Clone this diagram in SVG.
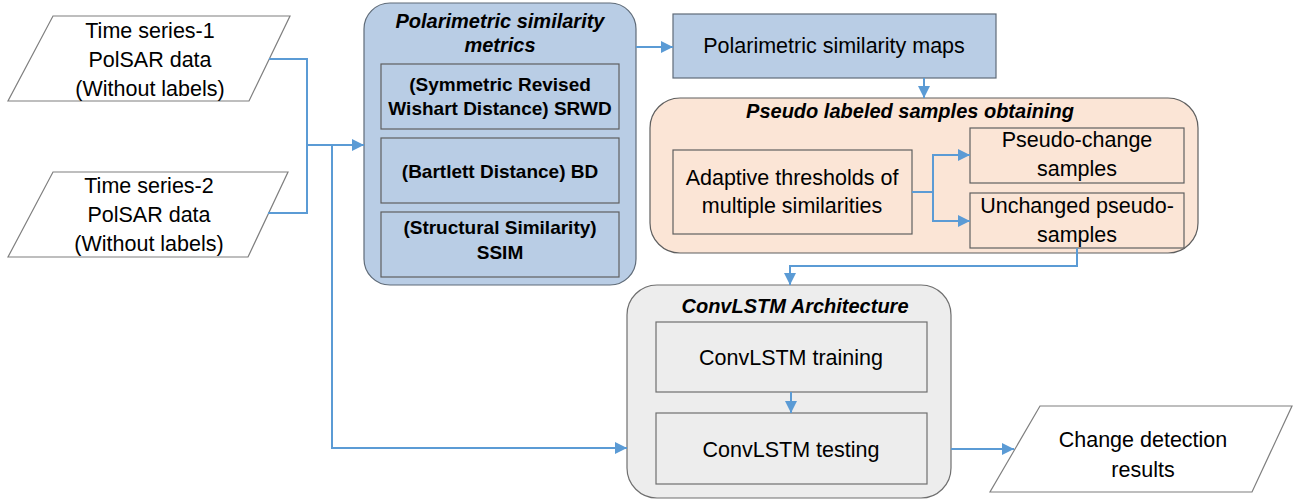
<svg xmlns="http://www.w3.org/2000/svg" width="1303" height="501" viewBox="0 0 1303 501">
  <style>
    .t { font-family: "Liberation Sans", Arial, sans-serif; font-size: 21.5px; fill: #000; text-anchor: middle; }
    .b { font-family: "Liberation Sans", Arial, sans-serif; font-size: 19px; font-weight: bold; fill: #000; text-anchor: middle; }
    .h { font-family: "Liberation Sans", Arial, sans-serif; font-size: 20px; font-weight: bold; font-style: italic; fill: #000; text-anchor: middle; }
    .io { fill: #fff; stroke: #7f7f7f; stroke-width: 1.2; }
    .blue { fill: #b9cde5; stroke: #5f6b78; stroke-width: 1.2; }
    .orange { fill: #fbe5d6; stroke: #5f5f5f; stroke-width: 1.2; }
    .gray { fill: #ededed; stroke: #6f6f6f; stroke-width: 1.2; }
    .inner { stroke: #5f5f5f; stroke-width: 1.2; }
    .link { fill: none; stroke: #5b9bd5; stroke-width: 2; }
  </style>
  <defs>
    <marker id="arrow" markerUnits="userSpaceOnUse" markerWidth="13" markerHeight="12" refX="12" refY="6" orient="auto">
      <path d="M0,0 L12,6 L0,12 z" fill="#5b9bd5"/>
    </marker>
  </defs>

  <rect width="1303" height="501" fill="#fff"/>

  <!-- input data -->
  <g id="input-1">
    <polygon class="io" points="53,16 290,16 249,101 8,101"/>
    <text class="t" x="150" y="38">Time series-1</text>
    <text class="t" x="150" y="67">PolSAR data</text>
    <text class="t" x="150" y="96">(Without labels)</text>
  </g>
  <g id="input-2">
    <polygon class="io" points="53,172 288,172 248,257 8,257"/>
    <text class="t" x="149" y="193">Time series-2</text>
    <text class="t" x="149" y="222">PolSAR data</text>
    <text class="t" x="149" y="251">(Without labels)</text>
  </g>

  <!-- similarity metrics -->
  <g id="metrics">
    <rect class="blue" x="364" y="3" width="272" height="282" rx="26" ry="26"/>
    <text class="h" x="500" y="28">Polarimetric similarity</text>
    <text class="h" x="500" y="52">metrics</text>
    <rect class="blue inner" x="381" y="64" width="238" height="65"/>
    <text class="b" x="500" y="91">(Symmetric Revised</text>
    <text class="b" x="500" y="115">Wishart Distance) SRWD</text>
    <rect class="blue inner" x="381" y="138" width="238" height="65"/>
    <text class="b" x="500" y="178">(Bartlett Distance) BD</text>
    <rect class="blue inner" x="381" y="212" width="238" height="65"/>
    <text class="b" x="500" y="234">(Structural Similarity)</text>
    <text class="b" x="500" y="259">SSIM</text>
  </g>

  <g id="maps">
    <rect class="blue" x="673" y="14" width="323" height="64"/>
    <text class="t" x="834" y="53">Polarimetric similarity maps</text>
  </g>

  <!-- pseudo labelling -->
  <g id="pseudo">
    <rect class="orange" x="650" y="98" width="548" height="155" rx="30" ry="30"/>
    <text class="h" x="910" y="118">Pseudo labeled samples obtaining</text>
  </g>
  <g id="thresholds">
    <rect class="orange" x="673" y="150" width="239" height="84"/>
    <text class="t" x="792" y="185">Adaptive thresholds of</text>
    <text class="t" x="792" y="213">multiple similarities</text>
  </g>
  <g id="pseudo-change">
    <rect class="orange" x="970" y="128" width="214" height="55"/>
    <text class="t" x="1077" y="147">Pseudo-change</text>
    <text class="t" x="1077" y="176">samples</text>
  </g>
  <g id="unchanged">
    <rect class="orange" x="970" y="193" width="214" height="55"/>
    <text class="t" x="1077" y="213">Unchanged pseudo-</text>
    <text class="t" x="1077" y="242">samples</text>
  </g>

  <!-- network -->
  <g id="convlstm">
    <rect class="gray" x="627" y="285" width="324" height="213" rx="30" ry="30"/>
    <text class="h" x="795" y="313">ConvLSTM Architecture</text>
  </g>
  <g id="training">
    <rect class="gray" x="656" y="322" width="271" height="70"/>
    <text class="t" x="791" y="365">ConvLSTM training</text>
  </g>
  <g id="testing">
    <rect class="gray" x="656" y="413" width="271" height="71"/>
    <text class="t" x="791" y="457">ConvLSTM testing</text>
  </g>

  <g id="output">
    <polygon class="io" points="1040,406 1292,406 1252,492 990,492"/>
    <text class="t" x="1143" y="447">Change detection</text>
    <text class="t" x="1143" y="477">results</text>
  </g>

  <!-- connectors -->
  <g id="connectors">
    <polyline class="link" points="269,59 307,59 307,213 268,213"/>
    <line class="link" x1="307" y1="145" x2="364" y2="145" marker-end="url(#arrow)"/>
    <polyline class="link" points="332,145 332,448 627,448" marker-end="url(#arrow)"/>
    <line class="link" x1="636" y1="47" x2="673" y2="47" marker-end="url(#arrow)"/>
    <line class="link" x1="924" y1="78" x2="924" y2="98" marker-end="url(#arrow)"/>
    <polyline class="link" points="912,192 933,192 933,155 970,155" marker-end="url(#arrow)"/>
    <polyline class="link" points="933,192 933,221 970,221" marker-end="url(#arrow)"/>
    <polyline class="link" points="1077,248 1077,266 790,266 790,285" marker-end="url(#arrow)"/>
    <line class="link" x1="791" y1="392" x2="791" y2="413" marker-end="url(#arrow)"/>
    <line class="link" x1="951" y1="449" x2="1014" y2="449" marker-end="url(#arrow)"/>
  </g>
</svg>
